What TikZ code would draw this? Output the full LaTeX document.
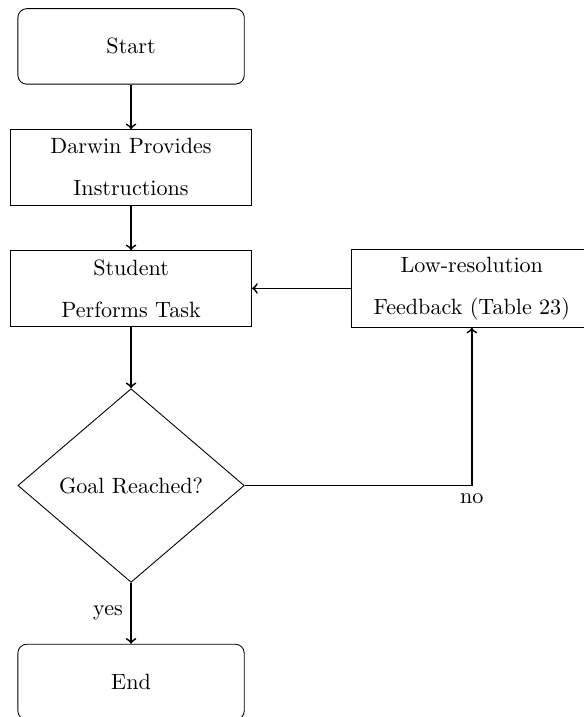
\documentclass[tikz,border=0pt]{standalone}
\usepackage{amsmath}
\usepackage{tikz}
\usetikzlibrary{positioning,shapes.geometric}

\begin{document}
\begin{tikzpicture}[
    startstop/.style={draw, rectangle, rounded corners,
                      minimum width=3.6cm, minimum height=1.2cm},
    process/.style={draw, rectangle, text width=3.6cm, align=center,
                    minimum height=1.2cm},
    decision/.style={draw, diamond, minimum width=3.6cm,
                     minimum height=3.08cm},
    arrow/.style={thick,->}]

% fixed frame, the end box runs off the bottom
\useasboundingbox (-59.3pt,21pt) rectangle (204.5pt,-303.4pt);

\node[startstop] (start) {Start};
\node[process, below=0.71cm of start] (darwin) {Darwin Provides\\[7pt] Instructions};
\node[process, below=0.71cm of darwin] (student) {Student\\[7pt] Performs Task};
\node[process, right=1.57cm of student] (feedback) {Low-resolution\\[7pt] Feedback (Table 23)};
\node[decision, below=0.98cm of student] (goal) {Goal Reached?};
\node[startstop, below=0.97cm of goal] (stop) {End};

\draw[arrow] (start) -- (darwin);
\draw[arrow] (darwin) -- (student);
\draw[arrow] (student) -- (goal);
\draw[arrow] (goal) -- node[left] {yes} (stop);
\draw[arrow] (goal.east) -| node[below, pos=0.5] {no} (feedback.south);
\draw[arrow] (feedback) -- (student);

\end{tikzpicture}
\end{document}
